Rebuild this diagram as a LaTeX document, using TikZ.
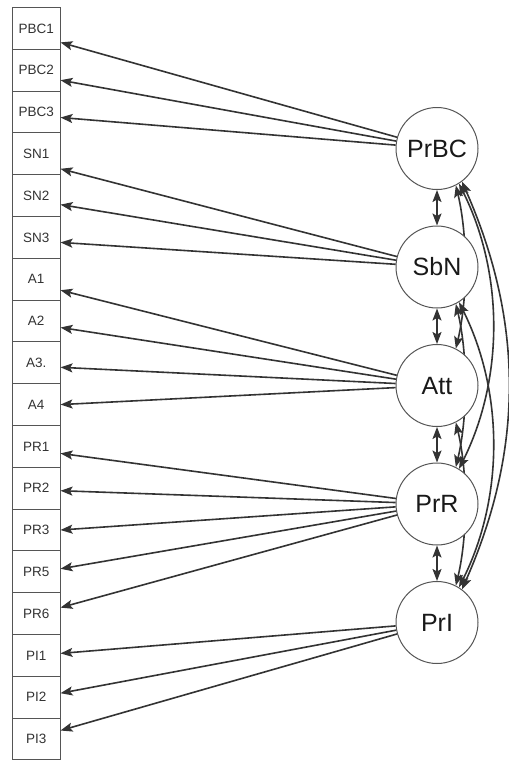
\documentclass[tikz,border=0pt]{standalone}
\usepackage{fontspec}
\setmainfont{Liberation Sans}
\usetikzlibrary{arrows.meta}
\definecolor{boxgray}{HTML}{555555}
\definecolor{arrgray}{HTML}{333333}
\definecolor{txtgray}{HTML}{333333}
\pgfdeclarelayer{background}
\pgfdeclarelayer{bottom}
\pgfsetlayers{bottom,background,main}
\begin{document}
\begin{tikzpicture}[x=1pt,y=-1pt,
  ind/.style={draw=boxgray, line width=1pt, minimum width=47.5pt, minimum height=41.8pt,
    inner sep=0pt, font=\fontsize{13.5}{15}\selectfont, text=txtgray, anchor=north west},
  lat/.style={draw=boxgray, circle, line width=1pt, minimum size=82pt, inner sep=0pt,
    font=\fontsize{25}{28}\selectfont, text=black!90, fill=white},
  tip/.tip={Stealth[length=12pt,width=9pt,inset=2.5pt]},
  load/.style={draw=arrgray, line width=1.6pt, -tip},
  cov/.style={draw=arrgray, line width=1.6pt, tip-tip}
]
\useasboundingbox (0,0) rectangle (509,764);
\begin{pgfonlayer}{bottom}
\fill[white] (0,0) rectangle (509,764);
\end{pgfonlayer}
% indicator boxes
\foreach \lab [count=\k from 0] in {PBC1,PBC2,PBC3,SN1,SN2,SN3,A1,A2,A3.,A4,PR1,PR2,PR3,PR5,PR6,PI1,PI2,PI3}
  \node[ind] (n\k) at (12,{7+41.8*\k}) {\lab};
% latent circles
\node[lat] (PrBC) at (437,148.5) {PrBC};
\node[lat] (SbN)  at (437,267)   {SbN};
\node[lat] (Att)  at (437,385.5) {Att};
\node[lat] (PrR)  at (437,504)   {PrR};
\node[lat] (PrI)  at (437,622.5) {PrI};
% loadings
\foreach \src/\k/\e in {PrBC/0/-14, PrBC/1/-10, PrBC/2/-5.5,
  SbN/3/-15, SbN/4/-9, SbN/5/-5,
  Att/6/-11, Att/7/-6.5, Att/8/-4.5, Att/9/0,
  PrR/10/-7, PrR/11/-2.5, PrR/12/0, PrR/13/3, PrR/14/6,
  PrI/15/2, PrI/16/4, PrI/17/8.5}
  \draw[load] (\src) -- ([yshift=\e*1pt]n\k.east);
% adjacent covariances
\draw[cov] (PrBC) -- (SbN);
\draw[cov] (SbN) -- (Att);
\draw[cov] (Att) -- (PrR);
\draw[cov] (PrR) -- (PrI);
% non-adjacent covariances (behind circles)
\begin{pgfonlayer}{background}
\draw[cov] (PrBC.-63) .. controls +(12,50) and +(12,-50) .. (Att.63);
\draw[cov] (SbN.-63) .. controls +(12,50) and +(12,-50) .. (PrR.63);
\draw[cov] (Att.-63) .. controls +(12,50) and +(12,-50) .. (PrI.63);
\draw[cov] (PrBC.-58) .. controls +(45,90) and +(45,-90) .. (PrR.58);
\draw[cov] (SbN.-58) .. controls +(45,90) and +(45,-90) .. (PrI.58);
\draw[cov] (PrBC.-53) .. controls +(62,140) and +(62,-140) .. (PrI.53);
\end{pgfonlayer}
\end{tikzpicture}
\end{document}
